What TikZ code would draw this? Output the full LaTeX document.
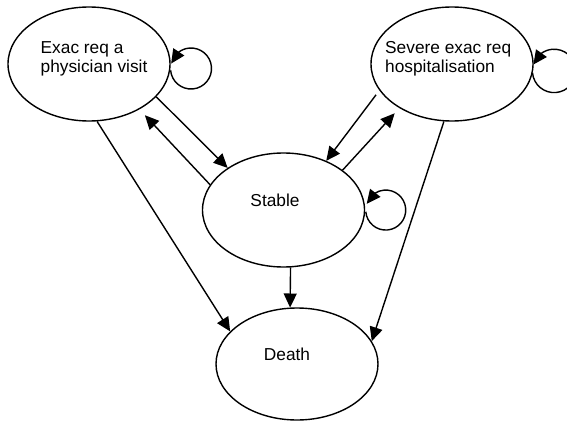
\documentclass[tikz,border=0pt]{standalone}
\usepackage{fontspec}
\setmainfont{Liberation Sans}
\usetikzlibrary{shapes.geometric,arrows.meta,bending}

\begin{document}
\begin{tikzpicture}[x=1pt,y=1pt,
  state/.style={draw, ellipse, line width=1.4pt, inner sep=0pt,
                minimum width=162pt, minimum height=114pt},
  lbl/.style={inner sep=0pt, font=\fontsize{17.3}{19}\selectfont},
  arr/.style={line width=1.4pt, -{Triangle[length=14pt,width=13pt]}},
  loopy/.style={line width=1.4pt, -{Triangle[length=14pt,width=13pt,flex]}}]

\useasboundingbox (0,0) rectangle (567,421);
\clip (0,0) rectangle (567,421);

% states
\node[state] (e1)     at (89,357)  {};
\node[state] (e2)     at (452,357) {};
\node[state] (stable) at (283.5,211) {};
\node[state, minimum height=112pt] (death) at (297,57) {};

% state labels
\node[lbl, anchor=base west] (e1a) at (40.5,367)   {Exac req a};
\node[lbl, anchor=base west] (e1b) at (40.5,348.3) {physician visit};
\node[lbl, anchor=base west] (e2a) at (385,367)    {Severe exac req};
\node[lbl, anchor=base west] (e2b) at (385,348.3)  {hospitalisation};
\node[lbl, anchor=base] (stablet) at (275,215) {Stable};
\node[lbl, anchor=base] (deatht)  at (287,61)  {Death};

% transitions between states
\draw[arr] (e1.-26) -- (stable.143);
\draw[arr, shorten >=8pt] (stable.161) -- (e1.-42);
\draw[arr, shorten <=5.5pt] (e2.200) -- (stable.49);
\draw[arr, shorten >=7pt] (stable.34) -- (e2.220);
\draw[arr] (e1.-82) -- (death.154.5);
\draw[arr] (stable.-83) -- (death.97);
\draw[arr] (e2.-98.6) -- (death.17.7);

% self transitions
\draw[loopy] (e1.east) ++(-0.1,-6.3) arc[start angle=185, end angle=526, radius=20.5];
\draw[loopy] (e2.east) ++(-1.2,-8.8) arc[start angle=185, end angle=523, radius=21.7];
\draw[loopy] (stable.east) ++(0.6,-1.8) arc[start angle=185, end angle=522, radius=20];

\end{tikzpicture}
\end{document}
